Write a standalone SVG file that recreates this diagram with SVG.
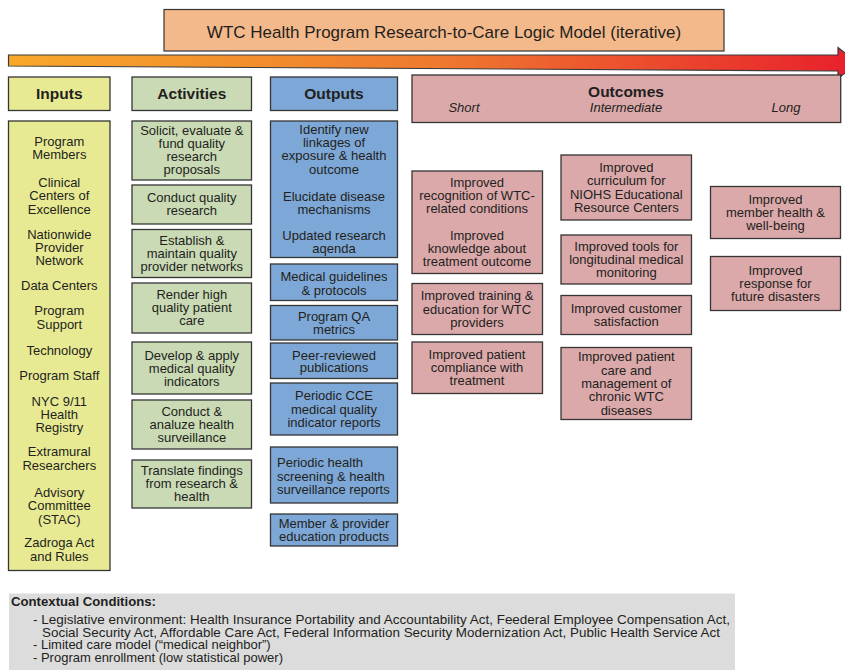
<svg xmlns="http://www.w3.org/2000/svg" width="845" height="670" viewBox="0 0 845 670">
  <defs>
    <linearGradient id="timeGrad" x1="0" y1="0" x2="1" y2="0">
      <stop offset="0" stop-color="#f7a82a"/>
      <stop offset="0.5" stop-color="#ef7a2f"/>
      <stop offset="1" stop-color="#e81f2c"/>
    </linearGradient>
    <style>
      text { font-family: "Liberation Sans", Arial, Helvetica, sans-serif; fill: #231f20; }
      .box { stroke: #353535; stroke-width: 1.3; }
      .inp { fill: #e8ea93; }
      .act { fill: #c9dab5; }
      .out { fill: #7da7d6; }
      .res { fill: #dba9aa; }
      .t { font-size: 13px; text-anchor: middle; }
      .tl { font-size: 13px; text-anchor: start; }
      .hd { font-size: 15.5px; font-weight: bold; text-anchor: middle; }
      .it { font-size: 13px; font-style: italic; text-anchor: middle; }
      .ctx { font-size: 13px; }
    </style>
  </defs>
  <rect width="845" height="670" fill="#ffffff"/>

  <!-- title banner -->
  <g id="title">
    <rect x="164" y="9.5" width="560" height="41.5" fill="#f4b98b" stroke="#353535" stroke-width="1.2"/>
    <text x="444" y="37.5" style="font-size:17px" text-anchor="middle">WTC Health Program Research-to-Care Logic Model (iterative)</text>
  </g>

  <!-- timeline arrow -->
  <g id="connectors">
    <polygon points="8.5,55 838,55 838,47.5 858,63 838,78.5 838,71 8.5,66" fill="url(#timeGrad)" stroke="#3a3a3a" stroke-width="1.2"/>
  </g>

  <!-- column headers -->
  <g id="hdr-inputs">
    <rect class="box inp" x="8.5" y="77" width="101.5" height="33.5"/>
    <text class="hd" x="59.3" y="99">Inputs</text>
  </g>
  <g id="hdr-activities">
    <rect class="box act" x="132" y="77" width="119.5" height="33.5"/>
    <text class="hd" x="191.8" y="99">Activities</text>
  </g>
  <g id="hdr-outputs">
    <rect class="box out" x="270.5" y="77" width="127" height="33.5"/>
    <text class="hd" x="334" y="99">Outputs</text>
  </g>
  <g id="hdr-outcomes">
    <rect class="box res" x="412" y="75" width="428.7" height="47.5"/>
    <text class="hd" x="626" y="97">Outcomes</text>
    <text class="it" x="464" y="111.5">Short</text>
    <text class="it" x="626" y="111.5">Intermediate</text>
    <text class="it" x="786" y="111.5">Long</text>
  </g>

  <!-- inputs -->
  <g id="inputs">
    <rect class="box inp" x="8.5" y="121" width="101.5" height="449.5"/>
    <text class="t"><tspan x="59.3" y="146">Program</tspan><tspan x="59.3" y="159">Members</tspan></text>
    <text class="t"><tspan x="59.3" y="187">Clinical</tspan><tspan x="59.3" y="200">Centers of</tspan><tspan x="59.3" y="213.5">Excellence</tspan></text>
    <text class="t"><tspan x="59.3" y="238.5">Nationwide</tspan><tspan x="59.3" y="252">Provider</tspan><tspan x="59.3" y="265">Network</tspan></text>
    <text class="t" x="59.3" y="290">Data Centers</text>
    <text class="t"><tspan x="59.3" y="315">Program</tspan><tspan x="59.3" y="328.5">Support</tspan></text>
    <text class="t" x="59.3" y="355">Technology</text>
    <text class="t" x="59.3" y="379.5">Program Staff</text>
    <text class="t"><tspan x="59.3" y="405.5">NYC 9/11</tspan><tspan x="59.3" y="419">Health</tspan><tspan x="59.3" y="432">Registry</tspan></text>
    <text class="t"><tspan x="59.3" y="456">Extramural</tspan><tspan x="59.3" y="469.5">Researchers</tspan></text>
    <text class="t"><tspan x="59.3" y="497">Advisory</tspan><tspan x="59.3" y="510">Committee</tspan><tspan x="59.3" y="523.5">(STAC)</tspan></text>
    <text class="t"><tspan x="59.3" y="547">Zadroga Act</tspan><tspan x="59.3" y="560.5">and Rules</tspan></text>
  </g>

  <!-- activities -->
  <g id="act-solicit">
    <rect class="box act" x="132" y="121" width="119.5" height="59"/>
    <text class="t"><tspan x="191.8" y="135">Solicit, evaluate &amp;</tspan><tspan x="191.8" y="148">fund quality</tspan><tspan x="191.8" y="161">research</tspan><tspan x="191.8" y="174">proposals</tspan></text>
  </g>
  <g id="act-conduct-research">
    <rect class="box act" x="132" y="185" width="119.5" height="39"/>
    <text class="t"><tspan x="191.8" y="202">Conduct quality</tspan><tspan x="191.8" y="215">research</tspan></text>
  </g>
  <g id="act-networks">
    <rect class="box act" x="132" y="229.5" width="119.5" height="48"/>
    <text class="t"><tspan x="191.8" y="244.5">Establish &amp;</tspan><tspan x="191.8" y="257.5">maintain quality</tspan><tspan x="191.8" y="270.5">provider networks</tspan></text>
  </g>
  <g id="act-care">
    <rect class="box act" x="132" y="283" width="119.5" height="50"/>
    <text class="t"><tspan x="191.8" y="299">Render high</tspan><tspan x="191.8" y="312">quality patient</tspan><tspan x="191.8" y="325">care</tspan></text>
  </g>
  <g id="act-indicators">
    <rect class="box act" x="132" y="342" width="119.5" height="52"/>
    <text class="t"><tspan x="191.8" y="359.5">Develop &amp; apply</tspan><tspan x="191.8" y="372.5">medical quality</tspan><tspan x="191.8" y="385.5">indicators</tspan></text>
  </g>
  <g id="act-surveillance">
    <rect class="box act" x="132" y="400" width="119.5" height="49"/>
    <text class="t"><tspan x="191.8" y="416">Conduct &amp;</tspan><tspan x="191.8" y="429">analuze health</tspan><tspan x="191.8" y="442">surveillance</tspan></text>
  </g>
  <g id="act-translate">
    <rect class="box act" x="132" y="460" width="119.5" height="48"/>
    <text class="t"><tspan x="191.8" y="474.5">Translate findings</tspan><tspan x="191.8" y="488">from research &amp;</tspan><tspan x="191.8" y="501">health</tspan></text>
  </g>

  <!-- outputs -->
  <g id="out-research">
    <rect class="box out" x="270.5" y="121" width="127" height="136.5"/>
    <text class="t"><tspan x="334" y="133.5">Identify new</tspan><tspan x="334" y="147">linkages of</tspan><tspan x="334" y="160">exposure &amp; health</tspan><tspan x="334" y="173.5">outcome</tspan></text>
    <text class="t"><tspan x="334" y="200.5">Elucidate disease</tspan><tspan x="334" y="213.5">mechanisms</tspan></text>
    <text class="t"><tspan x="334" y="240">Updated research</tspan><tspan x="334" y="252.5">aqenda</tspan></text>
  </g>
  <g id="out-guidelines">
    <rect class="box out" x="270.5" y="264" width="127" height="36.5"/>
    <text class="t"><tspan x="334" y="281">Medical guidelines</tspan><tspan x="334" y="294.5">&amp; protocols</tspan></text>
  </g>
  <g id="out-qa">
    <rect class="box out" x="270.5" y="305.5" width="127" height="34.5"/>
    <text class="t"><tspan x="334" y="321">Program QA</tspan><tspan x="334" y="333.5">metrics</tspan></text>
  </g>
  <g id="out-publications">
    <rect class="box out" x="270.5" y="343" width="127" height="35.5"/>
    <text class="t"><tspan x="334" y="359.5">Peer-reviewed</tspan><tspan x="334" y="372">publications</tspan></text>
  </g>
  <g id="out-cce-reports">
    <rect class="box out" x="270.5" y="383" width="127" height="52"/>
    <text class="t"><tspan x="334" y="400">Periodic CCE</tspan><tspan x="334" y="413.5">medical quality</tspan><tspan x="334" y="427">indicator reports</tspan></text>
  </g>
  <g id="out-screening">
    <rect class="box out" x="270.5" y="447" width="127" height="56"/>
    <text class="tl"><tspan x="277" y="467">Periodic health</tspan><tspan x="277" y="480.5">screening &amp; health</tspan><tspan x="277" y="494">surveillance reports</tspan></text>
  </g>
  <g id="out-education">
    <rect class="box out" x="270.5" y="514" width="127" height="32"/>
    <text class="t"><tspan x="334" y="528">Member &amp; provider</tspan><tspan x="334" y="540.5">education products</tspan></text>
  </g>

  <!-- short-term outcomes -->
  <g id="short-recognition">
    <rect class="box res" x="412" y="171" width="130.5" height="102.5"/>
    <text class="t"><tspan x="477" y="187">Improved</tspan><tspan x="477" y="200">recognition of WTC-</tspan><tspan x="477" y="213">related conditions</tspan></text>
    <text class="t"><tspan x="477" y="240">Improved</tspan><tspan x="477" y="253">knowledge about</tspan><tspan x="477" y="266">treatment outcome</tspan></text>
  </g>
  <g id="short-training">
    <rect class="box res" x="412" y="283.5" width="130.5" height="51"/>
    <text class="t"><tspan x="477" y="300">Improved training &amp;</tspan><tspan x="477" y="314">education for WTC</tspan><tspan x="477" y="327">providers</tspan></text>
  </g>
  <g id="short-compliance">
    <rect class="box res" x="412" y="342" width="130.5" height="51.5"/>
    <text class="t"><tspan x="477" y="359">Improved patient</tspan><tspan x="477" y="372">compliance with</tspan><tspan x="477" y="384.5">treatment</tspan></text>
  </g>

  <!-- intermediate outcomes -->
  <g id="mid-curriculum">
    <rect class="box res" x="561" y="155" width="130.5" height="65"/>
    <text class="t"><tspan x="626.3" y="172">Improved</tspan><tspan x="626.3" y="185">curriculum for</tspan><tspan x="626.3" y="199">NIOHS Educational</tspan><tspan x="626.3" y="212">Resource Centers</tspan></text>
  </g>
  <g id="mid-tools">
    <rect class="box res" x="561" y="235" width="130.5" height="49"/>
    <text class="t"><tspan x="626.3" y="250.5">Improved tools for</tspan><tspan x="626.3" y="264">longitudinal medical</tspan><tspan x="626.3" y="277">monitoring</tspan></text>
  </g>
  <g id="mid-satisfaction">
    <rect class="box res" x="561" y="295.5" width="130.5" height="39"/>
    <text class="t"><tspan x="626.3" y="313">Improved customer</tspan><tspan x="626.3" y="326">satisfaction</tspan></text>
  </g>
  <g id="mid-chronic-care">
    <rect class="box res" x="561" y="347.5" width="130.5" height="72"/>
    <text class="t"><tspan x="626.3" y="361">Improved patient</tspan><tspan x="626.3" y="374.5">care and</tspan><tspan x="626.3" y="388">management of</tspan><tspan x="626.3" y="401">chronic WTC</tspan><tspan x="626.3" y="414.5">diseases</tspan></text>
  </g>

  <!-- long-term outcomes -->
  <g id="long-health">
    <rect class="box res" x="710.5" y="186.5" width="130" height="52"/>
    <text class="t"><tspan x="775.5" y="204">Improved</tspan><tspan x="775.5" y="217">member health &amp;</tspan><tspan x="775.5" y="229.5">well-being</tspan></text>
  </g>
  <g id="long-response">
    <rect class="box res" x="710.5" y="256.5" width="130" height="54"/>
    <text class="t"><tspan x="775.5" y="274.5">Improved</tspan><tspan x="775.5" y="288">response for</tspan><tspan x="775.5" y="301">future disasters</tspan></text>
  </g>

  <!-- contextual conditions panel -->
  <g id="context">
    <rect x="9" y="593.5" width="726" height="77" fill="#dcdcdc"/>
    <text class="ctx" x="11" y="606" font-weight="bold" textLength="145" lengthAdjust="spacingAndGlyphs">Contextual Conditions:</text>
    <text class="ctx"><tspan x="33" y="624" textLength="697" lengthAdjust="spacingAndGlyphs">- Legislative environment: Health Insurance Portability and Accountability Act, Feederal Employee Compensation Act,</tspan><tspan x="42" y="636.5" textLength="678" lengthAdjust="spacingAndGlyphs">Social Security Act, Affordable Care Act, Federal Information Security Modernization Act, Public Health Service Act</tspan><tspan x="33" y="649">- Limited care model (“medical neighbor”)</tspan><tspan x="33" y="661.5">- Program enrollment (low statistical power)</tspan></text>
  </g>
</svg>
